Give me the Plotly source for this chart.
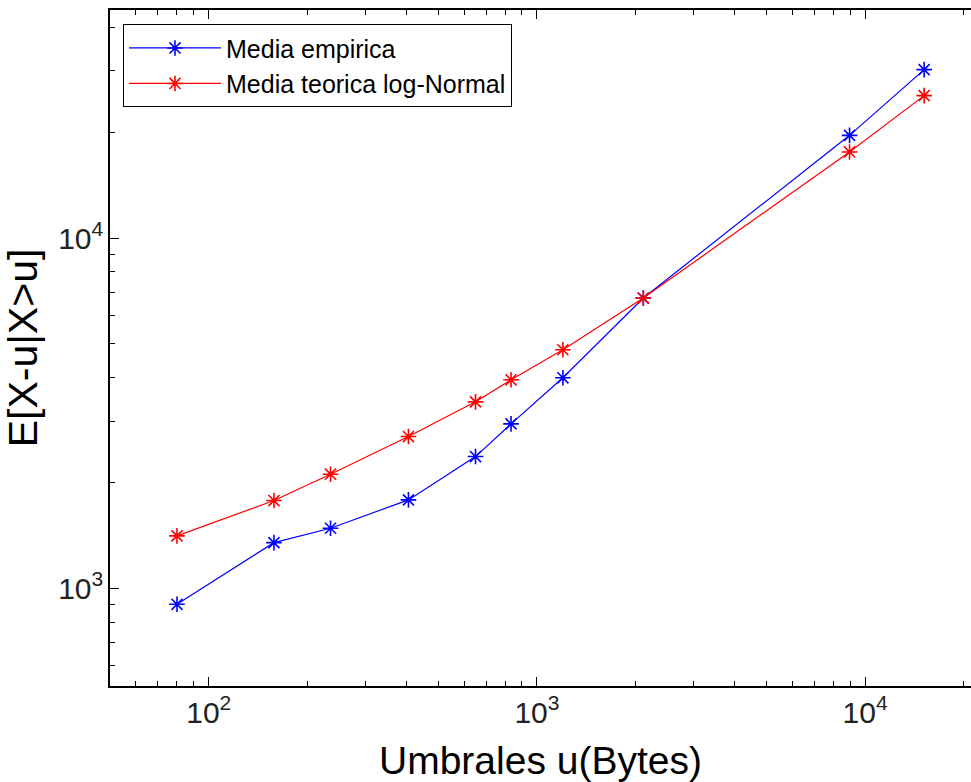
import numpy as np
import plotly.graph_objects as go

# Thresholds u (bytes) and mean excess values E[X-u | X>u]
umbrales = [80, 158, 235, 406, 650, 834, 1200, 2110, 8970, 15140]
media_empirica = [900, 1350, 1484, 1788, 2377, 2947, 3990, 6740, 19640, 30260]
media_teorica = [1411, 1780, 2117, 2711, 3406, 3937, 4797, 6740, 17610, 25500]

series_names = ["Media empirica", "Media teorica log-Normal"]
series_colors = ["#0000ff", "#ff0000"]

FONT = "Liberation Sans, Arial, Helvetica, sans-serif"

fig = go.Figure()
for name, vals, col in zip(series_names, [media_empirica, media_teorica], series_colors):
    fig.add_trace(go.Scatter(
        x=umbrales, y=vals, name=name, mode="lines+markers",
        line=dict(color=col, width=1.2),
        marker=dict(symbol="asterisk-open", size=13, color=col,
                    line=dict(color=col, width=1.6)),
    ))

axis_common = dict(
    type="log", showgrid=False, zeroline=False,
    showline=True, linecolor="black", linewidth=2,
    ticks="inside", ticklen=9, tickwidth=1, tickcolor="black",
    dtick=1, exponentformat="power", showexponent="all",
    tickfont=dict(family=FONT, size=24, color="#222222"),
    minor=dict(ticks="inside", ticklen=5, tickwidth=1, tickcolor="black",
               dtick="D1", showgrid=False),
)

fig.update_xaxes(
    **axis_common, mirror="ticks",
    range=[np.log10(50), 4.3229],
    title=dict(text="Umbrales u(Bytes)", font=dict(family=FONT, size=39, color="black"),
               standoff=20),
)
fig.update_yaxes(
    **axis_common, mirror=False,
    range=[2.721, 4.651],
    title=dict(text="E[X-u|X>u]", font=dict(family=FONT, size=41, color="black"),
               standoff=10),
)

fig.update_layout(
    width=971, height=782,
    margin=dict(l=110, r=0, t=10, b=96, autoexpand=False),
    paper_bgcolor="white", plot_bgcolor="white",
    font=dict(family=FONT, color="black"),
    legend=dict(
        x=0.0151, y=0.979, xanchor="left", yanchor="top",
        bgcolor="white", bordercolor="black", borderwidth=1,
        font=dict(family=FONT, size=25, color="black"),
        itemwidth=92, tracegroupgap=0,
        entrywidth=396, entrywidthmode="pixels",
    ),
)

fig.write_html("out.html")
